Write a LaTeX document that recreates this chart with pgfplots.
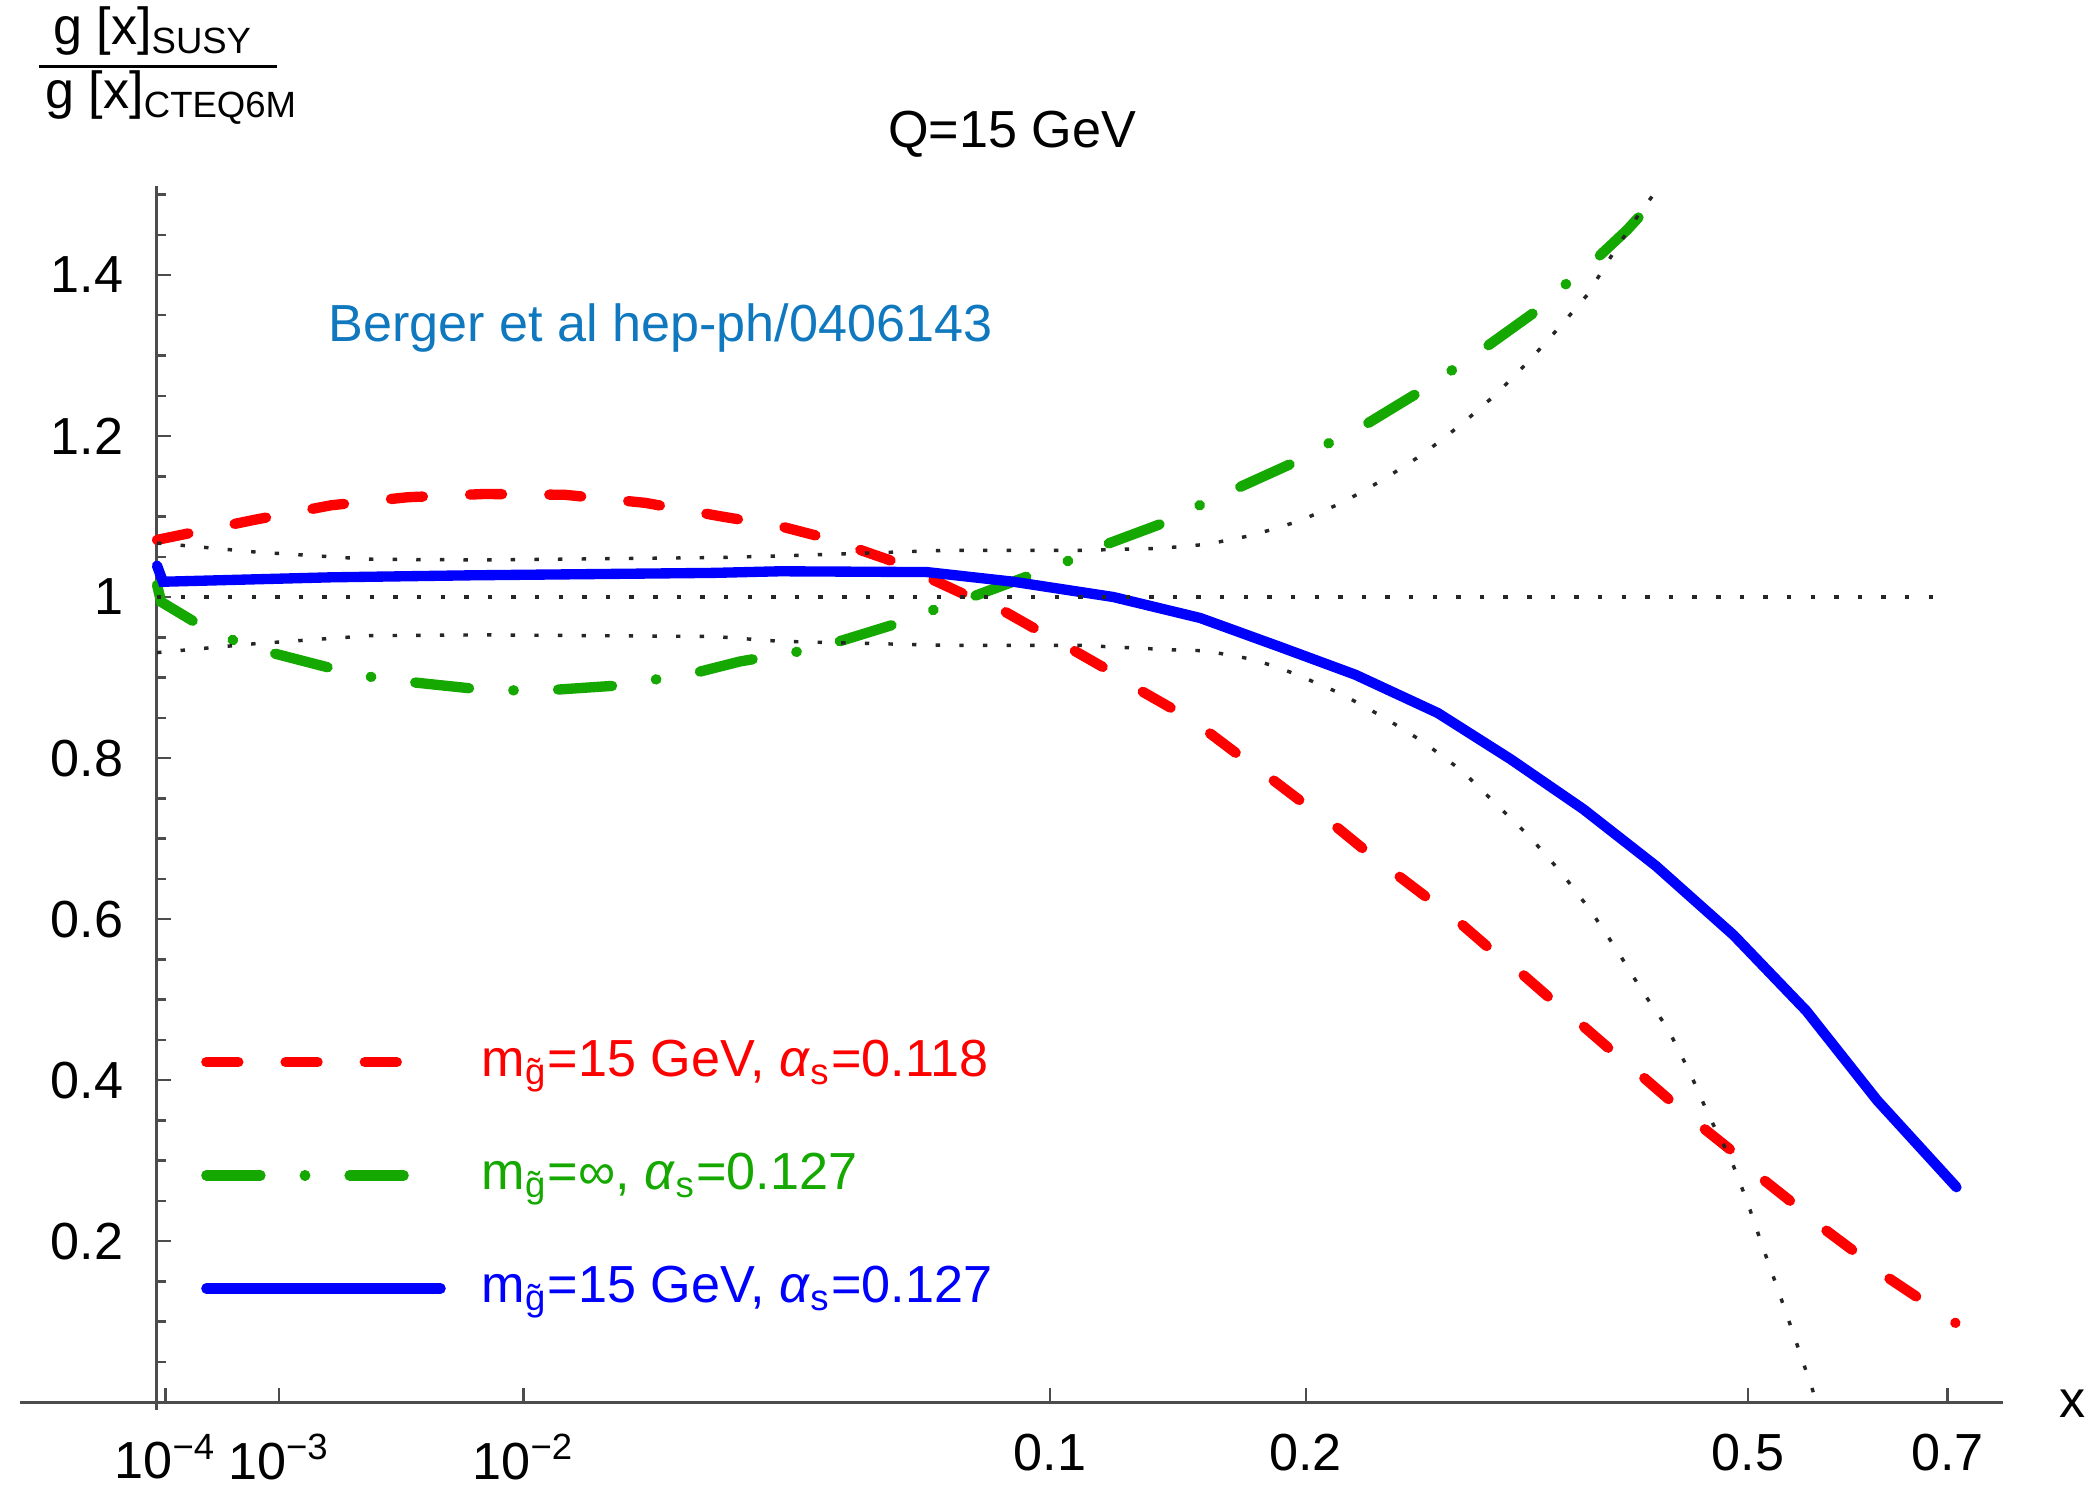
\documentclass[border=0pt]{standalone}
\usepackage{pgfplots}
\pgfplotsset{compat=1.18}
\usepackage{fontspec}
\setmainfont{Liberation Sans}
\definecolor{cred}{RGB}{255,0,0}
\definecolor{cgreen}{RGB}{20,168,0}
\definecolor{cblue}{RGB}{0,0,255}
\definecolor{cnote}{RGB}{16,120,190}
% x scale as in the original: x^(1/3), shifted so the y axis sits at u=0
\pgfplotsset{/pgfplots/table/cuberoot/.style={x expr={\thisrow{x}^(1/3)-0.0423}, y=y}}
\pgfplotsset{band/.style={black!85, line width=0.7pt, dash pattern=on 0.9pt off 3.9pt, forget plot}}
\pgfplotsset{legline/.style={legend image code/.code={\draw[##1] (0pt,0pt) -- (#1,0pt);}}}

\begin{document}
\fontsize{10.6}{12.7}\selectfont
\begin{tikzpicture}
\begin{axis}[
  x=430.3pt, y=163.6pt,
  xmin=-0.0647, xmax=0.8718, ymin=-0.01, ymax=1.511,
  axis lines=middle,
  axis line style={-, black!70, line width=0.6pt},
  clip=false,
  tick align=inside,
  major tick length=2.8pt, minor tick length=1.9pt,
  every tick/.style={black!70, line width=0.5pt},
  hide obscured x ticks=false, hide obscured y ticks=false,
  xtick={0.004116,0.0577,0.173143,0.421859,0.542504,0.751401,0.845604},
  xticklabels={10\textsuperscript{−4},10\textsuperscript{−3},10\textsuperscript{−2},0.1,0.2,0.5,0.7},
  ytick={0.2,0.4,0.6,0.8,1,1.2,1.4},
  yticklabels={0.2,0.4,0.6,0.8,1,1.2,1.4},
  minor ytick={0.05,0.1,0.15,0.25,0.3,0.35,0.45,0.5,0.55,0.65,0.7,0.75,0.85,0.9,0.95,1.05,1.1,1.15,1.25,1.3,1.35,1.45,1.5},
  xticklabel style={yshift=-2.8pt},
  yticklabel style={xshift=-3.1pt},
  legend cell align=left,
  legend style={at={(0.0914,0.3103)}, anchor=north west, draw=none, fill=none,
    inner sep=0pt, outer sep=0pt, row sep=10pt, column sep=5.3pt},
]
% m_gluino = 15 GeV, alpha_s = 0.118
\addplot[cred, line width=2.1pt, line cap=round, dash pattern=on 6.5pt off 9.6pt, legline=40.8pt]
  table[cuberoot] {
x y
7.6e-5 1.071
6.93e-4 1.096
1.938e-3 1.114
4.16e-3 1.124
7.64e-3 1.128
0.01296 1.127
0.02032 1.117
0.02951 1.100
0.03812 1.088
0.04550 1.074
0.05180 1.060
0.06043 1.042
0.06801 1.022
0.07746 1.000
0.08591 0.984
0.09692 0.957
0.1067 0.935
0.1188 0.909
0.1300 0.884
0.1438 0.858
0.1560 0.833
0.1704 0.801
0.1844 0.773
0.1993 0.743
0.2161 0.7125
0.2313 0.683
0.2486 0.653
0.2681 0.621
0.2856 0.593
0.3054 0.559
0.3245 0.531
0.3460 0.497
0.3667 0.467
0.3900 0.433
0.4124 0.403
0.4376 0.369
0.4612 0.340
0.4900 0.307
0.5138 0.276
0.5448 0.243
0.5719 0.214
0.6051 0.183
0.6360 0.154
0.6734 0.125
0.7085 0.0985
};
\addlegendentry{\textcolor{cred}{m\textsubscript{g̃}=15 GeV, \textit{α}\textsubscript{s}=0.118}}
% m_gluino = infinity, alpha_s = 0.127
\addplot[cgreen, line width=2.1pt, line cap=round, dash pattern=on 11pt off 9pt on 0.1pt off 9pt, legline=41.5pt]
  table[cuberoot] {
x y
7.6e-5 1.015
8.7e-5 0.994
2.314e-4 0.967
5.022e-4 0.945
9.289e-4 0.930
1.980e-3 0.911
3.042e-3 0.900
4.371e-3 0.894
7.128e-3 0.886
9.523e-3 0.884
0.01237 0.885
0.01744 0.890
0.02164 0.898
0.02650 0.907
0.03205 0.920
0.04086 0.932
0.04796 0.944
0.06008 0.967
0.06839 0.984
0.07790 1.000
0.09396 1.027
0.1056 1.045
0.1177 1.065
0.1386 1.092
0.1528 1.114
0.1684 1.135
0.1933 1.166
0.2112 1.191
0.2301 1.214
0.2588 1.253
0.2788 1.281
0.3001 1.310
0.3318 1.353
0.3538 1.388
0.3768 1.421
0.3994 1.456
0.4295 1.508
};
\addlegendentry{\textcolor{cgreen}{m\textsubscript{g̃}=∞, \textit{α}\textsubscript{s}=0.127}}
% m_gluino = 15 GeV, alpha_s = 0.127
\addplot[cblue, line width=2.1pt, line cap=round, legline=47.6pt]
  table[cuberoot] {
x y
7.6e-5 1.039
9.2e-5 1.019
1.938e-3 1.0245
7.0e-3 1.027
0.02848 1.030
0.03812 1.032
0.06684 1.031
0.08915 1.019
0.1205 1.000
0.1530 0.974
0.1878 0.938
0.2249 0.9035
0.2709 0.856
0.3164 0.7986
0.3667 0.7366
0.4220 0.666
0.4869 0.580
0.5535 0.486
0.6239 0.375
0.7096 0.267
};
\addlegendentry{\textcolor{cblue}{m\textsubscript{g̃}=15 GeV, \textit{α}\textsubscript{s}=0.127}}
% CTEQ6M uncertainty band and unity line
\addplot[band] table[cuberoot] {
x y
7.6e-5 1.067
6.93e-4 1.056
2.907e-3 1.047
7.64e-3 1.046
0.02848 1.049
0.03812 1.051
0.07162 1.058
0.1094 1.058
0.1374 1.0605
0.1558 1.0655
0.1757 1.077
0.1963 1.094
0.2180 1.117
0.2400 1.146
0.2626 1.178
0.2855 1.215
0.3076 1.253
0.3296 1.295
0.3515 1.339
0.3694 1.375
0.3880 1.425
0.4091 1.477
0.4205 1.501
0.4240 1.511
};
\addplot[band] table[cuberoot] {
x y
7.6e-5 0.931
6.93e-4 0.942
2.907e-3 0.952
7.64e-3 0.953
0.02848 0.951
0.03812 0.945
0.07162 0.940
0.1094 0.940
0.1451 0.934
0.1550 0.9334
0.1746 0.923
0.1863 0.913
0.1958 0.9035
0.2174 0.880
0.2405 0.850
0.2624 0.820
0.2856 0.784
0.3069 0.743
0.3293 0.702
0.3511 0.6575
0.3720 0.6105
0.3919 0.561
0.4105 0.512
0.4318 0.463
0.4497 0.409
0.4660 0.354
0.4841 0.303
0.4989 0.249
0.5129 0.193
0.5275 0.137
0.5422 0.081
0.5606 0.011
};
\addplot[band] table[cuberoot] {
x y
7.6e-5 1
0.7 1
};
\node[anchor=base] at (axis cs:0.4038,1.5578) {Q=15 GeV};
\node[anchor=base west, inner sep=0pt, text=cnote] at (axis cs:0.0805,1.3168) {Berger et al hep-ph/0406143};
\node[anchor=base, inner sep=0pt] at (axis cs:0.9044,-0.0186) {x};
\node[anchor=base, inner sep=0pt] at (axis cs:-0.0017,1.6857) {g [x]\textsubscript{SUSY}};
\draw[line width=0.6pt] (axis cs:-0.0557,1.6588) -- (axis cs:0.0567,1.6588);
\node[anchor=base, inner sep=0pt] at (axis cs:0.0071,1.6062) {g [x]\textsubscript{CTEQ6M}};
\coordinate (bbSW) at (axis cs:-0.0741,-0.108);
\coordinate (bbNE) at (axis cs:0.9157,1.7416);
\end{axis}
\pgfresetboundingbox
\path (bbSW) rectangle (bbNE);
\end{tikzpicture}
\end{document}
